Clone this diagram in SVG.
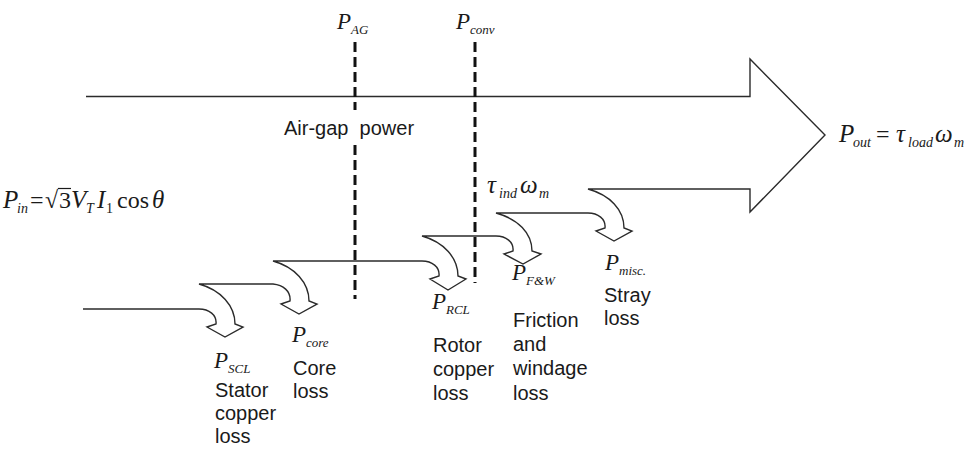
<svg xmlns="http://www.w3.org/2000/svg" width="974" height="449" viewBox="0 0 974 449">
<style>
.flow{fill:none;stroke:#2b2b2b;stroke-width:1.4;stroke-linejoin:miter}
.dash{stroke:#111;stroke-width:3;stroke-dasharray:10 5;fill:none}
.t{font-family:"Liberation Sans",Arial,sans-serif;font-size:20px;fill:#1a1a1a}
.m{font-family:"Liberation Serif","Times New Roman",serif;font-size:23px;font-style:italic;fill:#1a1a1a}
.s{font-family:"Liberation Serif","Times New Roman",serif;font-size:13px;font-style:italic;fill:#1a1a1a}
.u{font-family:"Liberation Serif","Times New Roman",serif;font-size:24px;fill:#1a1a1a}
.us{font-family:"Liberation Serif","Times New Roman",serif;font-size:14px;fill:#1a1a1a}
.big{font-size:25px}
.bs{font-size:14px}
</style>
<rect width="974" height="449" fill="#fff"/>
<g id="connectors">
<path id="power-flow" class="flow" d="M83,309 H199 C209,309 217,315 216,324 L207,327 L225,337 L243,327 L235,324 C235,306 221,290 199,284 H273 C283,285 291,291 290,301 L281,304 L299,314 L317,304 L309,301 C309,283 295,267 273,261 H422 C432,261 440,267 439,276 L430,279 L448,290 L466,279 L458,276 C458,258 444,242 422,236 H496 C506,236 514,242 513,251 L504,254 L523,264 L541,254 L532,251 C532,233 518,219 496,213 H588 C598,213 606,219 605,228 L596,231 L614,241 L632,231 L624,228 C624,210 610,195 588,189 H750 V212 L825,135 L750,59 V96.5 H86"/>
<line class="dash" x1="355" y1="42" x2="355" y2="110"/>
<line class="dash" x1="355" y1="145" x2="355" y2="299"/>
<line class="dash" x1="475" y1="42" x2="475" y2="283"/>
</g>
<g id="label-pag"><text class="m" x="337" y="29">P</text><text class="s" x="351" y="34">AG</text></g>
<g id="label-pconv"><text class="m" x="456" y="29">P</text><text class="s" x="470" y="34">conv</text></g>
<g id="label-airgap"><text class="t" x="284" y="135">Air-gap&#160; power</text></g>
<g id="label-pout">
<text class="m big" x="839" y="142">P</text><text class="s bs" x="853" y="147">out</text>
<text class="u" x="876" y="142">=</text>
<text class="m big" x="896" y="142">τ</text><text class="s bs" x="908" y="147">load</text>
<text class="m big" x="935" y="142">ω</text><text class="s bs" x="954" y="147">m</text>
</g>
<g id="label-pin">
<text class="m big" x="3" y="208">P</text><text class="s bs" x="17" y="213">in</text>
<text class="u" x="30" y="208">=</text>
<text class="u" x="45" y="208">√</text>
<line x1="58" y1="188.5" x2="71" y2="188.5" stroke="#1a1a1a" stroke-width="1.2"/>
<text class="u" x="59" y="208">3</text>
<text class="m big" x="71" y="208">V</text><text class="s bs" x="86" y="213">T</text>
<text class="m big" x="97" y="208">I</text><text class="us" x="106" y="213">1</text>
<text class="u" x="117" y="208">cos</text>
<text class="m big" x="152" y="208">θ</text>
</g>
<g id="label-tind">
<text class="m big" x="487" y="193">τ</text><text class="s bs" x="499" y="198">ind</text>
<text class="m big" x="520" y="193">ω</text><text class="s bs" x="539" y="198">m</text>
</g>
<g id="node-scl">
<text class="m" x="214" y="368">P</text><text class="s" x="228" y="373">SCL</text>
<text class="t" x="215" y="397">Stator</text>
<text class="t" x="215" y="420">copper</text>
<text class="t" x="215" y="443">loss</text>
</g>
<g id="node-core">
<text class="m" x="292" y="342">P</text><text class="s" x="306" y="347">core</text>
<text class="t" x="293" y="375">Core</text>
<text class="t" x="293" y="398">loss</text>
</g>
<g id="node-rcl">
<text class="m" x="432" y="309">P</text><text class="s" x="446" y="314">RCL</text>
<text class="t" x="433" y="352">Rotor</text>
<text class="t" x="433" y="376">copper</text>
<text class="t" x="433" y="400">loss</text>
</g>
<g id="node-fw">
<text class="m" x="512" y="280">P</text><text class="s" x="526" y="285">F&amp;W</text>
<text class="t" x="513" y="327">Friction</text>
<text class="t" x="513" y="351">and</text>
<text class="t" x="513" y="375">windage</text>
<text class="t" x="513" y="400">loss</text>
</g>
<g id="node-misc">
<text class="m" x="605" y="270">P</text><text class="s" x="619" y="275">misc.</text>
<text class="t" x="604" y="302">Stray</text>
<text class="t" x="604" y="325">loss</text>
</g>
</svg>
